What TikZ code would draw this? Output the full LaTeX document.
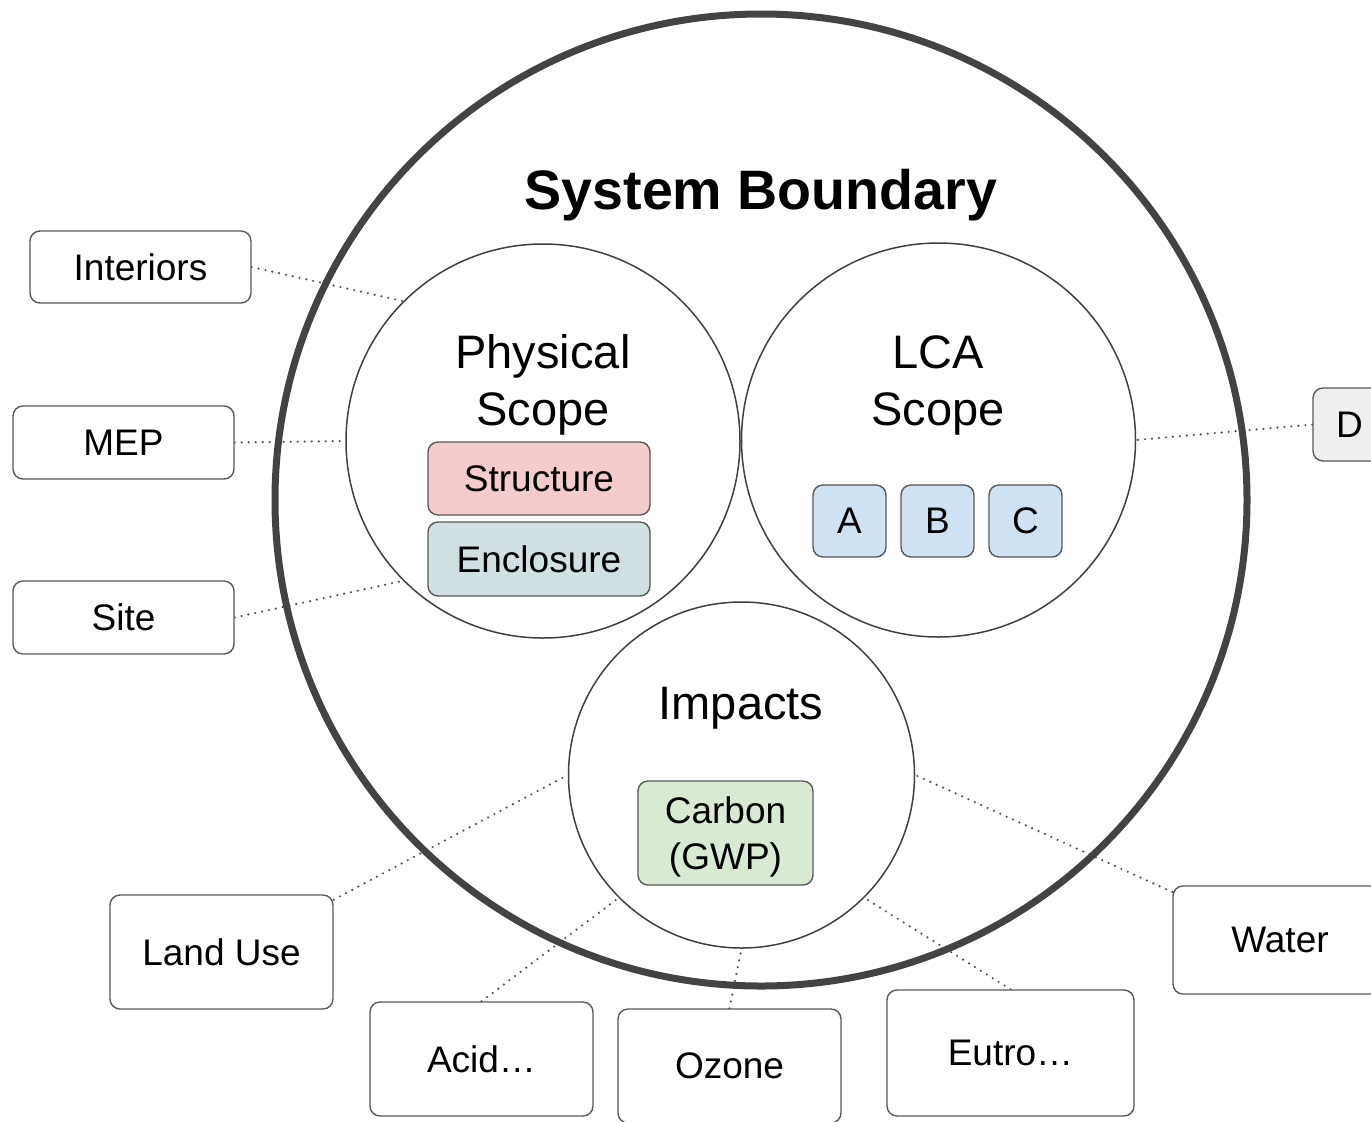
\documentclass[tikz,border=0pt]{standalone}
\usepackage{fontspec}
\setmainfont{Liberation Sans}
\usetikzlibrary{backgrounds}
\definecolor{cbig}{HTML}{434343}
\definecolor{cline}{HTML}{404040}
\definecolor{cbox}{HTML}{595959}
\definecolor{cdot}{HTML}{505050}
\definecolor{cstruct}{HTML}{F4CCCC}
\definecolor{cencl}{HTML}{D0E0E3}
\definecolor{cabc}{HTML}{CFE2F3}
\definecolor{ccarbon}{HTML}{D9EAD3}
\definecolor{cdgray}{HTML}{EFEFEF}
\begin{document}
\begin{tikzpicture}[x=0.5pt,y=-0.5pt,
  labelbox/.style={draw=cbox, line width=0.7pt, rounded corners=5pt, fill=white,
    inner sep=0pt, align=center, font=\fontsize{18.5}{22.2}\selectfont},
  scopecircle/.style={circle, draw=cline, line width=0.75pt, inner sep=0pt},
  scopetitle/.style={align=center, inner sep=0pt, font=\fontsize{23.5}{28.5}\selectfont},
  link/.style={draw=cdot, line width=1.2pt, dash pattern=on 0pt off 3.5pt, line cap=round}
]
\useasboundingbox (0,0) rectangle (1371,1121);

% circles
\node[circle, draw=cbig, line width=3.5pt, inner sep=0pt, minimum size=486pt] (bigc) at (761,500) {};
\node[scopecircle, minimum size=197pt] (phys) at (543,441) {};
\node[scopecircle, minimum size=197pt] (lca) at (938.5,440) {};
\node[scopecircle, minimum size=173pt] (imp) at (741.5,775) {};

% titles
\node[inner sep=0pt, font=\fontsize{27.8}{33}\selectfont\bfseries] (title) at (761,195) {System Boundary};
\node[scopetitle] (phystitle) at (543,385) {Physical\\Scope};
\node[scopetitle] (lcatitle) at (938,385) {LCA\\Scope};
\node[scopetitle] (imptitle) at (741,708) {Impacts};

% inner boxes
\node[labelbox, fill=cstruct, minimum width=111pt, minimum height=36.5pt] (structure) at (539,478.5) {Structure};
\node[labelbox, fill=cencl, minimum width=111pt, minimum height=37pt] (enclosure) at (539,559) {Enclosure};
\node[labelbox, fill=cabc, minimum width=36.5pt, minimum height=36pt] (A) at (849.5,521) {A};
\node[labelbox, fill=cabc, minimum width=36.5pt, minimum height=36pt] (B) at (937.5,521) {B};
\node[labelbox, fill=cabc, minimum width=36.5pt, minimum height=36pt] (C) at (1025.5,521) {C};
\node[labelbox, fill=ccarbon, minimum width=87.5pt, minimum height=52pt, text depth=0pt,
  font=\fontsize{18.5}{22.6}\selectfont] (carbon) at (725.5,833) {Carbon\\(GWP)};

% outer boxes
\node[labelbox, minimum width=110.5pt, minimum height=36pt] (interiors) at (140.5,267) {Interiors};
\node[labelbox, minimum width=110.5pt, minimum height=36.5pt] (mep) at (123.5,442.5) {MEP};
\node[labelbox, minimum width=110.5pt, minimum height=36.5pt] (site) at (123.5,617.5) {Site};
\node[labelbox, fill=cdgray, minimum width=36.5pt, minimum height=36.5pt] (D) at (1349.5,424.5) {D};
\node[labelbox, minimum width=111.5pt, minimum height=57pt] (landuse) at (221.5,952) {Land Use};
\node[labelbox, minimum width=111.5pt, minimum height=57pt] (acid) at (481.5,1059) {Acid…};
\node[labelbox, minimum width=111.5pt, minimum height=57pt] (ozone) at (729.5,1066) {Ozone};
\node[labelbox, minimum width=123.5pt, minimum height=63pt] (eutro) at (1010.5,1053) {Eutro…};
\node[labelbox, minimum width=107pt, minimum height=54pt] (water) at (1280,940) {Water};

% connectors
\begin{scope}[on background layer]
\draw[link] (interiors.east) -- (phys.135);
\draw[link] (mep.east) -- (phys.west);
\draw[link] (site.east) -- (phys.225);
\draw[link] (D.west) -- (lca.east);
\draw[link] (landuse.25) -- (imp.west);
\draw[link] (acid.north) -- (imp.225);
\draw[link] (ozone.north) -- (imp.south);
\draw[link] (eutro.north) -- (imp.315);
\draw[link] (water.156) -- (imp.east);
\end{scope}
\end{tikzpicture}
\end{document}
